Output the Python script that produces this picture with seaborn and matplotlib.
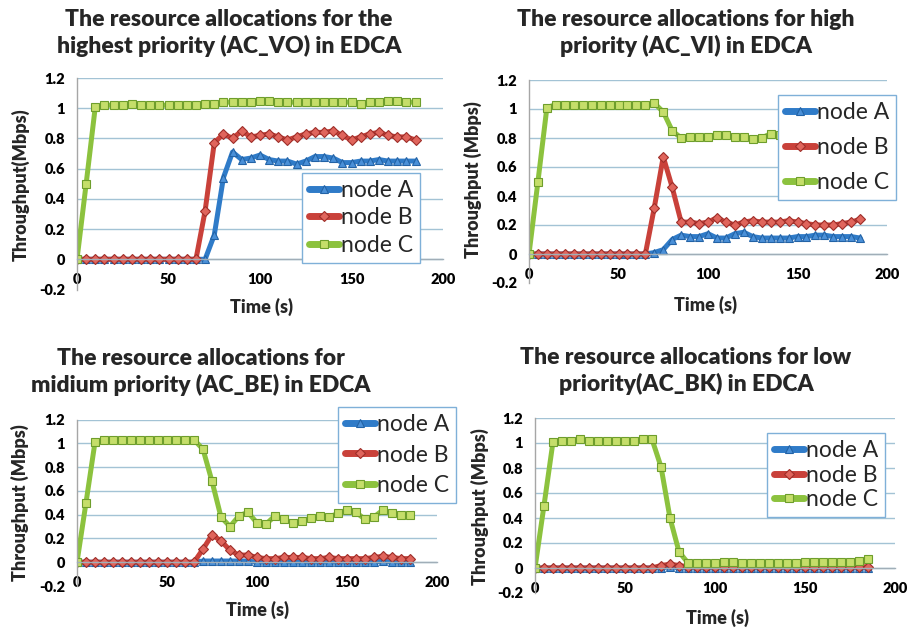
import matplotlib
matplotlib.use("Agg")
import matplotlib.pyplot as plt
import seaborn as sns
import pandas as pd

# Sample times (s)
time_s = [0, 5, 10, 15, 20, 25, 30, 35, 40, 45, 50, 55, 60, 65, 70, 75, 80, 85, 90,
          95, 100, 105, 110, 115, 120, 125, 130, 135, 140, 145, 150, 155, 160, 165,
          170, 175, 180, 185]
node_names = ["node A", "node B", "node C"]

# Highest priority (AC_VO)
vo_a = [0] * 14 + [0.0, 0.16, 0.54, 0.71, 0.66, 0.67, 0.69, 0.66, 0.65, 0.65, 0.63, 0.65,
                   0.68, 0.68, 0.67, 0.64, 0.64, 0.65, 0.65, 0.66, 0.65, 0.65, 0.65, 0.65]
vo_b = [0] * 14 + [0.32, 0.77, 0.83, 0.80, 0.85, 0.81, 0.82, 0.83, 0.81, 0.79, 0.81, 0.83,
                   0.84, 0.84, 0.85, 0.82, 0.79, 0.81, 0.83, 0.84, 0.82, 0.81, 0.81, 0.79]
vo_c = [0, 0.50, 1.01, 1.02, 1.02, 1.02, 1.03, 1.02, 1.02, 1.02, 1.02, 1.02, 1.02, 1.02,
        1.03, 1.03, 1.04, 1.04, 1.04, 1.04, 1.05, 1.05, 1.04, 1.04, 1.04, 1.04, 1.04, 1.04,
        1.04, 1.04, 1.04, 1.03, 1.04, 1.04, 1.05, 1.05, 1.04, 1.04]

# High priority (AC_VI)
vi_a = [0] * 14 + [0.01, 0.03, 0.10, 0.13, 0.12, 0.12, 0.14, 0.11, 0.11, 0.14, 0.15, 0.12,
                   0.11, 0.11, 0.11, 0.11, 0.12, 0.12, 0.13, 0.13, 0.12, 0.12, 0.12, 0.11]
vi_b = [0] * 14 + [0.32, 0.67, 0.46, 0.22, 0.22, 0.21, 0.22, 0.25, 0.22, 0.20, 0.22, 0.23,
                   0.22, 0.22, 0.22, 0.23, 0.22, 0.21, 0.20, 0.20, 0.20, 0.21, 0.22, 0.24]
vi_c = [0, 0.50, 1.01] + [1.03] * 11 + [1.04, 0.98, 0.85, 0.80, 0.81, 0.81, 0.81, 0.82,
                                       0.82, 0.81, 0.81, 0.79, 0.80, 0.83, 0.82, 0.82,
                                       0.83, 0.82, 0.82, 0.83, 0.82, 0.83, 0.82, 0.83]

# Medium priority (AC_BE)
be_a = [0] * 14 + [0.01, 0.01, 0.01, 0.01, 0.01, 0.01, 0.0, 0.0, 0.0, 0.0, 0.0, 0.0,
                   0.0, 0.0, 0.0, 0.0, 0.0, 0.0, 0.0, 0.0, 0.01, 0.0, 0.0, 0.0]
be_b = [0] * 14 + [0.11, 0.23, 0.18, 0.10, 0.06, 0.06, 0.04, 0.03, 0.03, 0.04, 0.04, 0.04,
                   0.03, 0.03, 0.04, 0.03, 0.03, 0.03, 0.03, 0.04, 0.05, 0.04, 0.03, 0.03]
be_c = [0, 0.50, 1.01] + [1.03] * 11 + [0.95, 0.68, 0.38, 0.30, 0.39, 0.42, 0.33, 0.32,
                                       0.39, 0.36, 0.33, 0.35, 0.37, 0.39, 0.38, 0.41,
                                       0.44, 0.42, 0.36, 0.38, 0.44, 0.41, 0.40, 0.40]

# Low priority (AC_BK)
bk_a = [0] * 14 + [0.0, 0.01, 0.0, 0.0, 0.0, 0.0, 0.0, 0.0, 0.0, 0.0, 0.0, 0.0,
                   0.0, 0.0, 0.0, 0.0, 0.0, 0.0, 0.0, 0.0, 0.0, 0.0, 0.0, 0.0]
bk_b = [0] * 14 + [0.02, 0.03, 0.02, 0.01, 0.01, 0.01, 0.01, 0.01, 0.01, 0.01, 0.01, 0.01,
                   0.01, 0.01, 0.01, 0.01, 0.01, 0.01, 0.01, 0.01, 0.01, 0.01, 0.01, 0.01]
bk_c = [0, 0.50, 1.01, 1.02, 1.02, 1.03, 1.02, 1.02, 1.02, 1.02, 1.02, 1.02, 1.03, 1.03,
        0.81, 0.40, 0.13, 0.04, 0.04, 0.04, 0.04, 0.05, 0.05, 0.04, 0.04, 0.04, 0.04,
        0.04, 0.04, 0.04, 0.05, 0.05, 0.05, 0.05, 0.05, 0.05, 0.06, 0.07]

titles = [
    "The resource allocations for the\nhighest priority (AC_VO) in EDCA",
    "The resource allocations for high\npriority (AC_VI) in EDCA",
    "The resource allocations for\nmidium priority (AC_BE) in EDCA",
    "The resource allocations for low\npriority(AC_BK) in EDCA",
]
ylabels = ["Throughput(Mbps)", "Throughput (Mbps)", "Throughput (Mbps)", "Throughput (Mbps)"]
xlabel = "Time (s)"
y_ticks = [-0.2, 0, 0.2, 0.4, 0.6, 0.8, 1, 1.2]
y_ticklabels = ["-0.2", "0", "0.2", "0.4", "0.6", "0.8", "1", "1.2"]
x_ticks = [0, 50, 100, 150, 200]

panels = [(vo_a, vo_b, vo_c), (vi_a, vi_b, vi_c), (be_a, be_b, be_c), (bk_a, bk_b, bk_c)]

sns.set_theme(style="white")
plt.rcParams["font.family"] = ["Lato", "DejaVu Sans"]

W, H = 910, 631
fig = plt.figure(figsize=(W / 100, H / 100), dpi=100)
fig.patch.set_facecolor("white")

# layout in pixels: axes box (left, right, top, bottom), title centre, ylabel pos, xlabel pos, legend corner
layout = [
    dict(box=(77, 443, 78, 289.5), title=(229, 33), ylab=(21, 185), xlab=(262, 307),
         leg=(302, 173), lsp=0.28),
    dict(box=(529, 887, 80, 283), title=(686, 33), ylab=(473, 180), xlab=(705, 305),
         leg=(778, 95), lsp=0.62),
    dict(box=(77, 437, 419.5, 586), title=(201, 372), ylab=(20, 503), xlab=(258, 610),
         leg=(338, 407), lsp=0.42),
    dict(box=(535, 895, 418, 593), title=(686, 371), ylab=(480, 507), xlab=(717, 618),
         leg=(767, 433), lsp=0.16),
]

line_colors = ["#2F7BC8", "#C9413A", "#8CC23E"]
face_colors = ["#4A90D8", "#E0655C", "#C5DE6A"]
edge_colors = ["#2363A6", "#9E2E29", "#6E9E2C"]
markers = ["^", "D", "s"]
msizes = [6.0, 5.0, 5.6]
grid_color = "#A3C3D5"

for idx, (spec, series) in enumerate(zip(layout, panels)):
    l, r, t, b = spec["box"]
    ax = fig.add_axes([l / W, 1 - b / H, (r - l) / W, (b - t) / H])
    frame = pd.DataFrame({"time": time_s})
    for name, vals, lc, fc, ec, mk, ms in zip(node_names, series, line_colors, face_colors,
                                               edge_colors, markers, msizes):
        assert len(vals) == len(time_s)
        frame[name] = vals
        sns.lineplot(data=frame, x="time", y=name, ax=ax, color=lc, linewidth=3.6,
                     marker=mk, markersize=ms, markerfacecolor=fc, markeredgecolor=ec,
                     markeredgewidth=0.8, label=name, legend=False)

    ax.set_xlim(0, 200)
    ax.set_ylim(-0.2, 1.2)
    ax.set_yticks(y_ticks)
    ax.set_yticklabels(y_ticklabels)
    ax.set_xticks(x_ticks)
    ax.set_xticklabels([str(v) for v in x_ticks])
    ax.yaxis.grid(True, color=grid_color, linewidth=1.0)
    ax.yaxis.get_gridlines()[0].set_visible(False)
    ax.xaxis.grid(False)
    ax.set_axisbelow(True)
    for s in ("top", "right"):
        ax.spines[s].set_visible(False)
    ax.spines["left"].set_color("#A6A6A6")
    ax.spines["left"].set_linewidth(1.0)
    ax.spines["bottom"].set_position(("data", 0))
    ax.spines["bottom"].set_color("#A0AEB8")
    ax.spines["bottom"].set_linewidth(1.0)
    ax.tick_params(axis="both", length=0, labelsize=10.5, colors="black")
    ax.tick_params(axis="y", pad=8.5)
    ax.tick_params(axis="x", pad=10)
    for lab in ax.get_xticklabels() + ax.get_yticklabels():
        lab.set_fontweight("heavy")
    ax.set_xlabel("")
    ax.set_ylabel("")

    fig.text(spec["title"][0] / W, 1 - spec["title"][1] / H, titles[idx],
             ha="center", va="center", fontsize=16.5, fontweight="heavy",
             linespacing=1.3, multialignment="center")
    fig.text(spec["ylab"][0] / W, 1 - spec["ylab"][1] / H, ylabels[idx],
             ha="center", va="center", rotation=90, fontsize=13, fontweight="heavy")
    fig.text(spec["xlab"][0] / W, 1 - spec["xlab"][1] / H, xlabel,
             ha="center", va="center", fontsize=13, fontweight="heavy")

    handles, labels = ax.get_legend_handles_labels()
    lg = ax.legend(handles, labels, loc="upper left",
                   bbox_to_anchor=(spec["leg"][0] / W, 1 - spec["leg"][1] / H),
                   bbox_transform=fig.transFigure, borderaxespad=0, fontsize=16.5,
                   frameon=True, fancybox=False, framealpha=1, edgecolor="#7FB0D8",
                   handlelength=1.3, handletextpad=0.1, labelspacing=spec["lsp"],
                   borderpad=0.3)
    lg.get_frame().set_linewidth(1.0)
    for h in lg.get_lines():
        h.set_linewidth(5)

fig.savefig("out.png", dpi=100, facecolor="white")
